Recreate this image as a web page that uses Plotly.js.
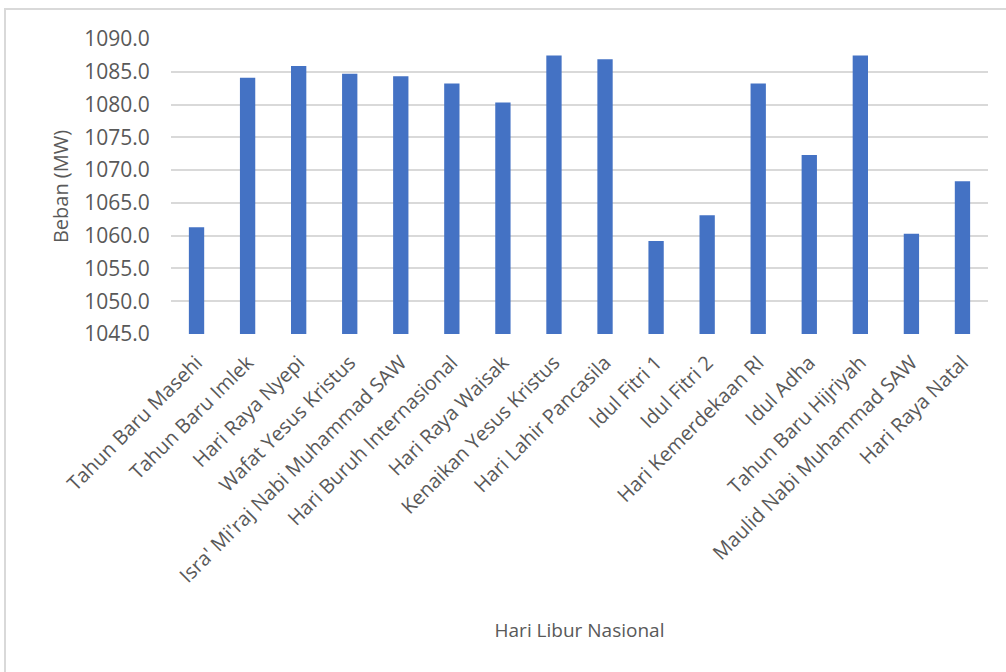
<!DOCTYPE html>
<html>
<head>
<meta charset="utf-8">
<script src="https://cdn.plot.ly/plotly-3.0.1.min.js"></script>
<style>
html,body{margin:0;padding:0;background:#fff;}
#frame{position:absolute;left:4px;top:8px;width:1010px;height:680px;border:2px solid #d9d9d9;box-sizing:border-box;}
#chart{position:absolute;left:0;top:0;width:1006px;height:672px;}
</style>
</head>
<body>
<div id="frame"></div>
<div id="chart"></div>
<script>
const categories = [
  "Tahun Baru Masehi","Tahun Baru Imlek","Hari Raya Nyepi","Wafat Yesus Kristus",
  "Isra' Mi'raj Nabi Muhammad SAW","Hari Buruh Internasional","Hari Raya Waisak",
  "Kenaikan Yesus Kristus","Hari Lahir Pancasila","Idul Fitri 1","Idul Fitri 2",
  "Hari Kemerdekaan RI","Idul Adha","Tahun Baru Hijriyah","Maulid Nabi Muhammad SAW","Hari Raya Natal"
];
const beban = [1061.3,1084.1,1085.9,1084.7,1084.3,1083.2,1080.3,1087.5,1086.9,1059.2,1063.1,1083.2,1072.3,1087.5,1060.3,1068.3];
const yTicks = [1045,1050,1055,1060,1065,1070,1075,1080,1085,1090];
const yTickLabels = yTicks.map(v => v.toFixed(1));

const font = "'Open Sans', 'Noto Sans', sans-serif";
Plotly.newPlot('chart', [{
  type: 'bar',
  x: categories,
  y: beban,
  marker: {color: '#4472c4', line: {width: 0}},
  hoverinfo: 'skip'
}], {
  width: 1006, height: 672,
  margin: {l: 171, r: 18, t: 39, b: 338},
  paper_bgcolor: 'rgba(0,0,0,0)',
  plot_bgcolor: 'rgba(0,0,0,0)',
  bargap: 0.7,
  showlegend: false,
  xaxis: {
    type: 'category',
    tickangle: -45,
    tickfont: {family: font, size: 20, color: '#595959'},
    showgrid: false,
    showline: false,
    ticks: 'outside', ticklen: 8, tickcolor: 'rgba(0,0,0,0)',
    automargin: true,
    title: {text: 'Hari Libur Nasional', font: {family: font, size: 19, color: '#595959'}, standoff: 36}
  },
  yaxis: {
    range: [1045, 1090],
    tickvals: yTicks,
    ticktext: yTickLabels,
    tickfont: {family: font, size: 21, color: '#595959'},
    gridcolor: '#d9d9d9', gridwidth: 2,
    zeroline: false, showline: false,
    ticks: 'outside', ticklen: 16, tickcolor: 'rgba(0,0,0,0)',
    automargin: true,
    title: {text: 'Beban (MW)', font: {family: font, size: 20, color: '#595959'}, standoff: 10}
  }
}, {displayModeBar: false, staticPlot: true});
</script>
</body>
</html>
